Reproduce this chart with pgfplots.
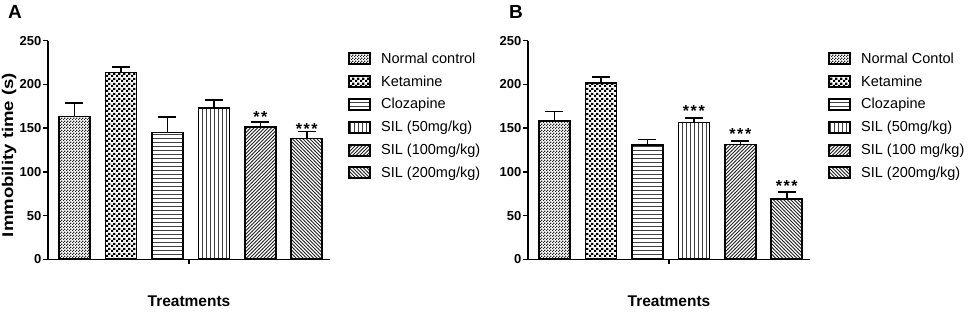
\documentclass[border=0pt]{standalone}
\usepackage{fontspec}
\setmainfont{Liberation Sans}
\usepackage{pgfplots}
\pgfplotsset{compat=1.18}
\usetikzlibrary{patterns}

\pgfdeclarepatternformonly{finecheck}{\pgfqpoint{0bp}{0bp}}{\pgfqpoint{3bp}{3bp}}{\pgfqpoint{3bp}{3bp}}{%
  \pgfpathrectangle{\pgfqpoint{0bp}{0bp}}{\pgfqpoint{1.5bp}{1.5bp}}%
  \pgfpathrectangle{\pgfqpoint{1.5bp}{1.5bp}}{\pgfqpoint{1.5bp}{1.5bp}}%
  \pgfusepath{fill}}
\pgfdeclarepatternformonly{bigcheck}{\pgfqpoint{0bp}{0bp}}{\pgfqpoint{4.6bp}{4.6bp}}{\pgfqpoint{4.6bp}{4.6bp}}{%
  \pgfpathrectangle{\pgfqpoint{0bp}{0bp}}{\pgfqpoint{2.3bp}{2.3bp}}%
  \pgfpathrectangle{\pgfqpoint{2.3bp}{2.3bp}}{\pgfqpoint{2.3bp}{2.3bp}}%
  \pgfusepath{fill}}
\pgfdeclarepatternformonly{hl}{\pgfqpoint{-0.5bp}{0bp}}{\pgfqpoint{4.5bp}{4bp}}{\pgfqpoint{4bp}{4bp}}{%
  \pgfsetlinewidth{0.8bp}%
  \pgfpathmoveto{\pgfqpoint{-0.5bp}{2bp}}\pgfpathlineto{\pgfqpoint{4.5bp}{2bp}}\pgfusepath{stroke}}
\pgfdeclarepatternformonly{vl}{\pgfqpoint{0bp}{-0.5bp}}{\pgfqpoint{4bp}{4.5bp}}{\pgfqpoint{4bp}{4bp}}{%
  \pgfsetlinewidth{0.8bp}%
  \pgfpathmoveto{\pgfqpoint{2bp}{-0.5bp}}\pgfpathlineto{\pgfqpoint{2bp}{4.5bp}}\pgfusepath{stroke}}
\pgfdeclarepatternformonly{ne}{\pgfqpoint{-1bp}{-1bp}}{\pgfqpoint{4.5bp}{4.5bp}}{\pgfqpoint{3.5bp}{3.5bp}}{%
  \pgfsetlinewidth{0.75bp}%
  \pgfpathmoveto{\pgfqpoint{-0.2bp}{-0.2bp}}\pgfpathlineto{\pgfqpoint{3.7bp}{3.7bp}}\pgfusepath{stroke}}
\pgfdeclarepatternformonly{nw}{\pgfqpoint{-1bp}{-1bp}}{\pgfqpoint{4.5bp}{4.5bp}}{\pgfqpoint{3.5bp}{3.5bp}}{%
  \pgfsetlinewidth{0.75bp}%
  \pgfpathmoveto{\pgfqpoint{-0.2bp}{3.7bp}}\pgfpathlineto{\pgfqpoint{3.7bp}{-0.2bp}}\pgfusepath{stroke}}

\pgfplotsset{
  bstyle/.style={ybar, bar width=31bp, bar shift=0pt, draw=black, line width=1.6bp,
    error bars/y dir=plus, error bars/y explicit,
    error bars/error bar style={line width=1.6bp, solid, draw=black},
    error bars/error mark options={rotate=90, line width=1.6bp, mark size=9bp, draw=black}},
  panel/.style={
    scale only axis, width=282bp, height=218.6bp,
    xmin=0.43, xmax=6.5, ymin=0, ymax=250,
    axis lines=left, axis line style={-, line width=1.3bp},
    tick style={line width=1.3bp, black},
    major tick length=5bp, tick align=outside,
    xtick={3.465}, xticklabels={},
    ytick={0,50,100,150,200,250},
    ticklabel style={font=\fontsize{13bp}{15bp}\bfseries, inner sep=1.5bp},
    /pgf/number format/assume math mode=true,
    clip=false,
    legend cell align=left,
    legend image code/.code={\draw[##1, line width=2bp] (0bp,-5.5bp) rectangle (21bp,5.5bp);},
    legend style={at={(1,1)}, anchor=north west, xshift=15bp, yshift=-8bp, draw=none, fill=none,
      font=\fontsize{14.5bp}{16bp}\selectfont, row sep=6.8bp,
      /tikz/every odd column/.append style={column sep=8bp}},
  },
}

\newcommand{\stars}[3]{\node[anchor=base, yshift=-9.5bp, font=\fontsize{16bp}{18bp}\bfseries] at (axis cs:#1,#2) {#3};}
\newcommand{\sst}{*\kern1.6bp*}
\newcommand{\ssst}{*\kern1.6bp*\kern1.6bp*}

\begin{document}
\begin{tikzpicture}
\path[use as bounding box] (0,0) rectangle (969bp,312bp);

\begin{axis}[panel, at={(48bp,52.7bp)}, anchor=south west]
\addplot[bstyle, pattern=finecheck, pattern color=black!85] coordinates {(1,163.5) +- (0,15.5)};
\addplot[bstyle, pattern=bigcheck, pattern color=black] coordinates {(2,213.8) +- (0,6.2)};
\addplot[bstyle, pattern=hl, pattern color=black!75] coordinates {(3,144.8) +- (0,18.2)};
\addplot[bstyle, pattern=vl, pattern color=black!75] coordinates {(4,172.7) +- (0,9.3)};
\addplot[bstyle, pattern=ne, pattern color=black!85] coordinates {(5,151.0) +- (0,6.0)};
\addplot[bstyle, pattern=nw, pattern color=black!85] coordinates {(6,138.0) +- (0,8.0)};
\legend{Normal control, Ketamine, Clozapine, SIL (50mg/kg), SIL (100mg/kg), SIL (200mg/kg)}
\stars{5}{167.3}{\sst}
\stars{6}{153.6}{\ssst}
\end{axis}

\begin{axis}[panel, at={(528bp,52.7bp)}, anchor=south west]
\addplot[bstyle, pattern=finecheck, pattern color=black!85] coordinates {(1,158.5) +- (0,10.5)};
\addplot[bstyle, pattern=bigcheck, pattern color=black] coordinates {(2,201.8) +- (0,6.8)};
\addplot[bstyle, pattern=hl, pattern color=black!75] coordinates {(3,130.7) +- (0,6.1)};
\addplot[bstyle, pattern=vl, pattern color=black!75] coordinates {(4,156.6) +- (0,4.9)};
\addplot[bstyle, pattern=ne, pattern color=black!85] coordinates {(5,131.4) +- (0,3.6)};
\addplot[bstyle, pattern=nw, pattern color=black!85] coordinates {(6,69.0) +- (0,7.8)};
\legend{Normal Contol, Ketamine, Clozapine, SIL (50mg/kg), SIL (100 mg/kg), SIL (200mg/kg)}
\stars{4}{174.3}{\ssst}
\stars{5}{148}{\ssst}
\stars{6}{88.8}{\ssst}
\end{axis}

\node[rotate=90, font=\fontsize{15.5bp}{17bp}\bfseries] at (9bp,157bp) {\scalebox{1.2}[1]{Immobility time (s)}};
\node[font=\fontsize{15.5bp}{18bp}\bfseries] at (189bp,11bp) {Treatments};
\node[font=\fontsize{15.5bp}{18bp}\bfseries] at (669bp,11bp) {Treatments};
\node[font=\fontsize{19bp}{21bp}\bfseries] at (15bp,300bp) {A};
\node[font=\fontsize{19bp}{21bp}\bfseries] at (516bp,300bp) {B};
\end{tikzpicture}
\end{document}
